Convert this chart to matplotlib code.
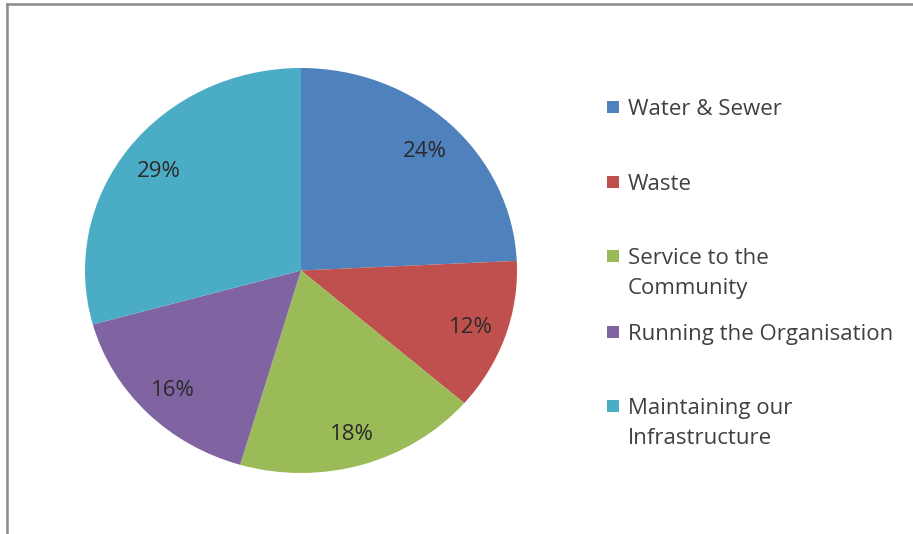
import matplotlib
matplotlib.use("Agg")
import matplotlib.pyplot as plt
from matplotlib.patches import Rectangle
from matplotlib.lines import Line2D

# datos del grafico
categorias = ["Water & Sewer", "Waste", "Service to the\nCommunity",
              "Running the Organisation", "Maintaining our\nInfrastructure"]
porcentajes = [24, 12, 18, 16, 29]
colores = ["#4F81BD", "#C0504D", "#9BBB59", "#8064A2", "#4BACC6"]

plt.rcParams['font.family'] = ['Open Sans', 'DejaVu Sans']
texto_color = "#404040"

W, H = 913, 534
fig = plt.figure(figsize=(W / 100, H / 100), dpi=100)

# marco gris (solo arriba e izquierda visibles)
fig.add_artist(Line2D([7 / W, 1], [1 - 4 / H, 1 - 4 / H], color="#8a8a8a", lw=1.8))
fig.add_artist(Line2D([7 / W, 7 / W], [0, 1 - 4 / H], color="#8a8a8a", lw=1.8))

# pastel (ligeramente estirado en horizontal como el original)
ax = fig.add_axes([85 / W, 1 - 473 / H, 432 / W, 405 / H])
wedges, _, autotexts = ax.pie(
    porcentajes, colors=colores, startangle=90, counterclock=False,
    autopct=lambda p: f"{p:.0f}%", pctdistance=0.83,
    textprops=dict(fontsize=16, color="#2a2a2a"))
for t in autotexts:
    t.set_va("center_baseline")
ax.set_aspect("auto")
ax.set_xlim(-1, 1)
ax.set_ylim(-1, 1)
ax.axis("off")

# leyenda manual (y = linea base de la primera linea)
y_leyenda = [115, 190, 264, 340, 414]
for wedge, etiqueta, y in zip(wedges, categorias, y_leyenda):
    fig.add_artist(Rectangle((607 / W, 1 - (y - 2) / H), 12 / W, 12 / H,
                             transform=fig.transFigure,
                             facecolor=wedge.get_facecolor(), edgecolor="none"))
    lineas = etiqueta.split("\n")
    for i, linea in enumerate(lineas):
        fig.text(628 / W, 1 - (y + 30 * i) / H, linea, fontsize=16,
                 color=texto_color, va="baseline", ha="left")

plt.savefig("out.png", dpi=100)
